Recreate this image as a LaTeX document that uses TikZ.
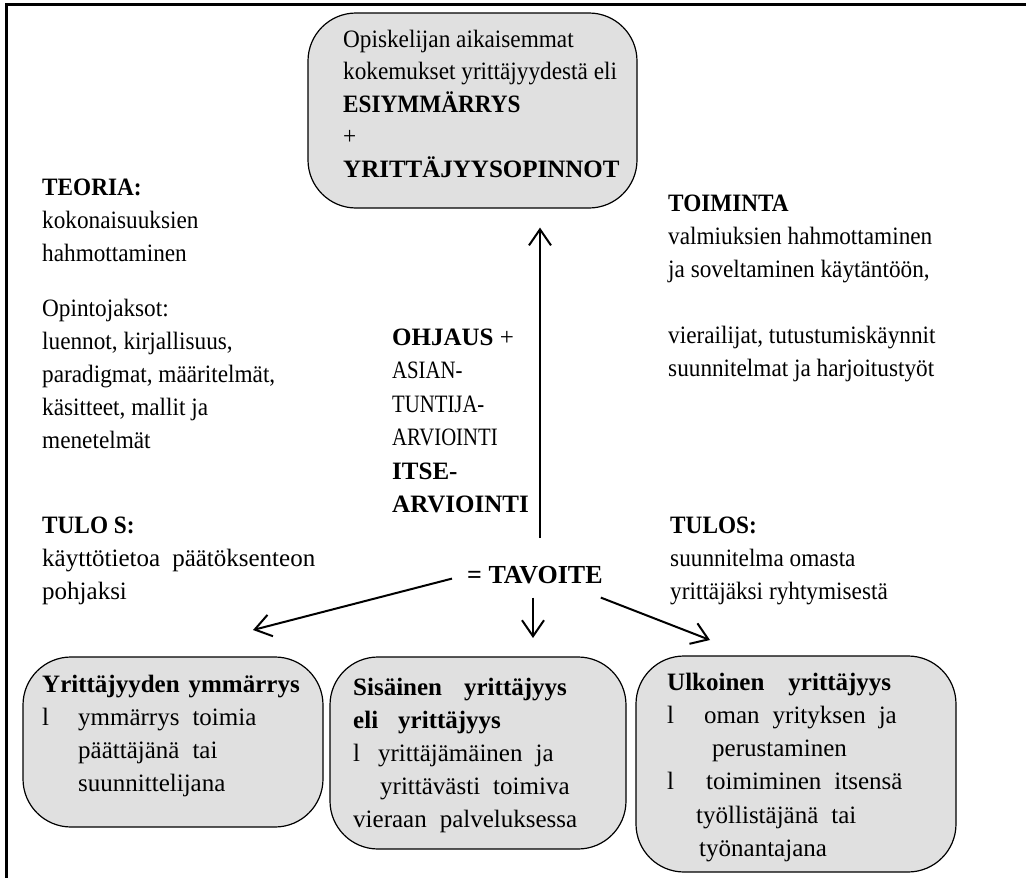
\documentclass[tikz,border=0pt]{standalone}
\usepackage{fontspec}
\setmainfont{Liberation Serif}
\newfontfamily\narrow[FakeStretch=0.93]{Liberation Serif}
\newfontfamily\vnarrow[FakeStretch=0.83]{Liberation Serif}
\newcommand\widespace{\setlength{\spaceskip}{13pt}}
\usetikzlibrary{arrows.meta}
\tikzset{
  panel/.style={draw, line width=1.2pt, fill=black!12, rounded corners=48pt},
  txt/.style={anchor=base west, align=left, inner sep=0pt, font=\fontsize{25}{33}\selectfont},
  boxtxt/.style={txt, font=\fontsize{25}{33}\selectfont\widespace},
  arr/.style={line width=2pt, -{Straight Barb[length=16pt,width=22pt]}}
}
\begin{document}
\begin{tikzpicture}[x=1pt,y=-1pt]
  \useasboundingbox (0,0) rectangle (1026,878);
  \draw[line width=3pt] (6,878) -- (6,4) -- (1026,4);

  % text nodes are placed at the baseline of their last line
  \node[panel, minimum width=329pt, minimum height=195pt] (top) at (472.5,110.5) {};
  \node[txt, font=\fontsize{25}{32.5}\selectfont\narrow] (toptxt) at (343,177)
    {Opiskelijan aikaisemmat\\ kokemukset yrittäjyydestä eli\\ \textbf{ESIYMMÄRRYS}\\ +\\
     {\rmfamily\bfseries YRITTÄJYYSOPINNOT}};

  \node[txt, font=\fontsize{25}{33}\selectfont\narrow] (teoria) at (42,448)
    {\textbf{TEORIA:}\\ kokonaisuuksien\\ hahmottaminen\\[22pt] Opintojaksot:\\
     luennot, kirjallisuus,\\ paradigmat, määritelmät,\\ käsitteet, mallit ja\\ menetelmät};
  \node[txt] (tulos1) at (42,599)
    {{\narrow\bfseries TULO S:}\\ käyttötietoa\hspace{12pt}päätöksenteon\\ pohjaksi};

  \node[txt, font=\fontsize{25}{33.5}\selectfont] (ohjaus) at (392,512.5)
    {\textbf{OHJAUS} +\\ {\vnarrow ASIAN-}\\ {\vnarrow TUNTIJA-}\\ {\vnarrow ARVIOINTI}\\
     \textbf{ITSE-}\\ \textbf{ARVIOINTI}};

  \node[txt, font=\fontsize{25}{33}\selectfont\narrow] (toiminta) at (668,376)
    {\textbf{TOIMINTA}\\ valmiuksien hahmottaminen\\ ja soveltaminen käytäntöön,\\[33pt]
     vierailijat, tutustumiskäynnit\\ suunnitelmat ja harjoitustyöt};
  \node[txt, font=\fontsize{25}{33}\selectfont\narrow] (tulos2) at (670,599)
    {\textbf{TULOS:}\\ suunnitelma omasta\\ yrittäjäksi ryhtymisestä};

  \node[txt, font=\fontsize{26}{33}\selectfont\bfseries] (tavoite) at (467,583) {= TAVOITE};

  \node[panel, minimum width=300pt, minimum height=170pt] (b1) at (173,742) {};
  \node[panel, minimum width=296pt, minimum height=192pt] (b2) at (478,753) {};
  \node[panel, minimum width=320pt, minimum height=216pt] (b3) at (796,764) {};

  \node[boxtxt] (b1txt) at (42,791)
    {\textbf{Yrittäjyyden\hspace{9pt}ymmärrys}\\ l\hspace{29pt}ymmärrys toimia\\
     \hspace*{36pt}päättäjänä tai\\ \hspace*{36pt}suunnittelijana};
  \node[boxtxt] (b2txt) at (353,827)
    {\textbf{Sisäinen\hspace{22pt}yrittäjyys}\\ \textbf{eli\hspace{20pt}yrittäjyys}\\
     l\hspace{18pt}yrittäjämäinen ja\\ \hspace*{27pt}yrittävästi toimiva\\ vieraan palveluksessa};
  \node[boxtxt, font=\fontsize{25}{33.3}\selectfont\widespace] (b3txt) at (667,856.5)
    {\textbf{Ulkoinen\hspace{24pt}yrittäjyys}\\ l\hspace{30pt}oman yrityksen ja\\
     \hspace*{45pt}perustaminen\\ l\hspace{32pt}toimiminen itsensä\\
     \hspace*{29pt}työllistäjänä tai\\ \hspace*{32pt}työnantajana};

  \coordinate (up) at (540,538);
  \coordinate (a1) at (253,630);
  \coordinate (a2) at (533,638);
  \coordinate (a3) at (710,640);
  \draw[arr, shorten >=19pt] (up) -- (up |- top.south);
  \draw[arr] ([shift={(-15,4)}]tavoite.west) -- (a1);
  \draw[arr, shorten <=14pt] (a2 |- tavoite.south) -- (a2);
  \draw[arr] ([shift={(-2,14)}]tavoite.south east) -- (a3);
\end{tikzpicture}
\end{document}
